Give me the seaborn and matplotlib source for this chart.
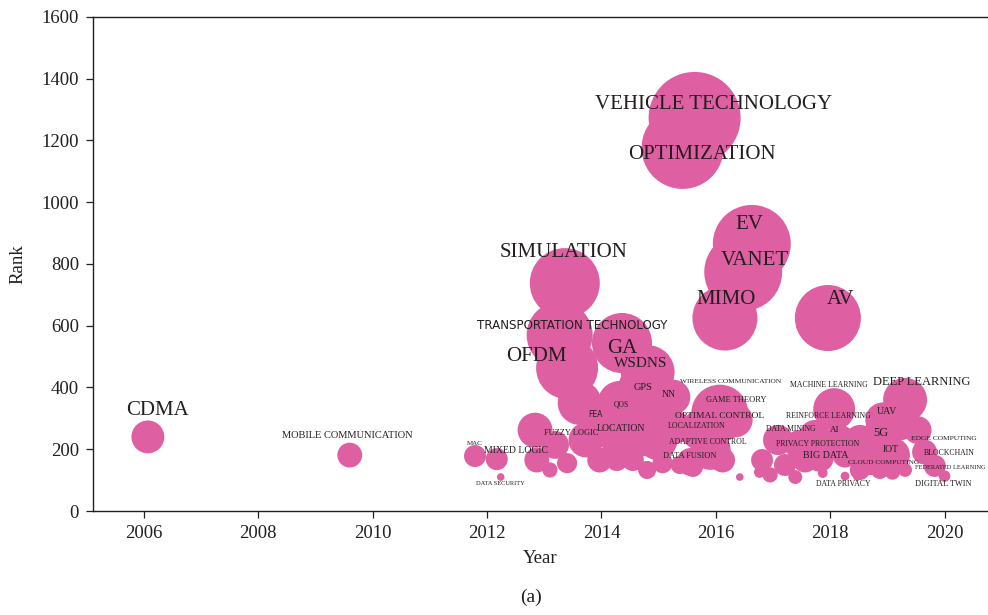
import matplotlib
matplotlib.use('Agg')
import matplotlib.pyplot as plt
import pandas as pd
import seaborn as sns

# keyword bubbles: first appearance year, rank, frequency (bubble area)
keywords = [
    'CDMA', 'MOBILE COMMUNICATION', 'MAC', 'MIXED LOGIC', 'DATA SECURITY',
    'SIMULATION', 'TRANSPORTATION TECHNOLOGY', 'OFDM', 'GA', 'WSDNS',
    'VEHICLE TECHNOLOGY', 'OPTIMIZATION', 'EV', 'VANET', 'MIMO', 'AV',
    'FEA', 'FUZZY LOGIC', 'QOS', 'GPS', 'NN', 'LOCATION',
    'WIRELESS COMMUNICATION', 'GAME THEORY', 'OPTIMAL CONTROL', 'LOCALIZATION',
    'ADAPTIVE CONTROL', 'DATA FUSION', 'DATA MINING', 'MACHINE LEARNING',
    'REINFORCE LEARNING', 'AI', 'PRIVACY PROTECTION', 'BIG DATA', 'DATA PRIVACY',
    'CLOUD COMPUTING', 'DEEP LEARNING', 'UAV', '5G', 'IOT', 'EDGE COMPUTING',
    'BLOCKCHAIN', 'FEDERATED LEARNING', 'DIGITAL TWIN',
] + [''] * 33
years = [
    2006.07, 2009.60, 2011.79, 2012.17, 2012.24,
    2013.36, 2013.27, 2013.40, 2014.36, 2014.81,
    2015.63, 2015.42, 2016.63, 2016.48, 2016.16, 2017.96,
    2013.62, 2012.84, 2014.32, 2014.72, 2015.25, 2014.32,
    2016.07, 2016.34, 2015.73, 2015.25,
    2015.91, 2015.56, 2017.09, 2018.07,
    2017.73, 2018.17, 2017.47, 2017.82, 2018.26,
    2018.69, 2019.31, 2018.92, 2018.87, 2019.09, 2019.53,
    2019.65, 2019.83, 2020.00,
    # unlabeled
    2012.87, 2013.10, 2013.40, 2013.19, 2013.97, 2014.27, 2014.55, 2014.80,
    2015.07, 2015.37, 2015.60, 2016.12, 2016.42, 2013.97, 2014.98, 2014.63,
    2013.73, 2014.81, 2016.81, 2016.95, 2016.77, 2017.21, 2017.39, 2017.87,
    2018.47, 2017.56, 2018.26, 2018.52, 2019.09, 2018.87, 2019.31, 2018.52,
    2019.23,
]
ranks = [
    240, 181, 178, 168, 110,
    738, 570, 463, 544, 450,
    1273, 1176, 865, 774, 625, 625,
    350, 262, 350, 392, 369, 253,
    317, 295, 262, 272,
    198, 159, 230, 330,
    246, 230, 214, 172, 113,
    165, 360, 295, 230, 181, 262,
    191, 146, 113,
    165, 133, 155, 214, 165, 165, 165, 133,
    155, 149, 143, 165, 110, 295, 230, 230,
    230, 327, 165, 117, 126, 149, 110, 123,
    110, 165, 181, 133, 126, 133, 133, 230,
    278,
]
counts = [
    56, 32, 25, 25, 3,
    254, 226, 199, 187, 150,
    439, 349, 315, 315, 219, 226,
    100, 63, 100, 130, 63, 105,
    168, 63, 83, 63,
    83, 40, 47, 91,
    47, 47, 47, 40, 4,
    47, 100, 63, 83, 63, 40,
    32, 25, 7,
    32, 12, 21, 40, 32, 25, 25, 17,
    21, 17, 21, 32, 3, 83, 83, 63,
    63, 63, 25, 12, 7, 25, 10, 5,
    3, 32, 32, 21, 12, 17, 10, 47,
    47,
]

df = pd.DataFrame({'keyword': keywords, 'year': years, 'rank': ranks, 'count': counts})

# label placement: offset from bubble centre (points) and font size
label_layout = {
    'CDMA': (7, 19, 15), 'MOBILE COMMUNICATION': (-2, 14, 7.5), 'MAC': (0, 9, 5),
    'MIXED LOGIC': (14, 6, 7), 'DATA SECURITY': (0, -5, 4.6), 'SIMULATION': (-1, 22, 15),
    'TRANSPORTATION TECHNOLOGY': (9, 7, 8.6), 'OFDM': (-22, 8, 15), 'GA': (0, -4, 15),
    'WSDNS': (-5, 6, 11), 'VEHICLE TECHNOLOGY': (14, 10, 15), 'OPTIMIZATION': (14, -5, 15),
    'EV': (-2, 14, 15), 'VANET': (8, 8, 15), 'MIMO': (1, 13, 15), 'AV': (9, 13, 15),
    'FEA': (11, -8, 5.5), 'FUZZY LOGIC': (26, -2, 6), 'QOS': (1, -1, 5.5),
    'GPS': (0, 2, 7.5), 'NN': (-3, 2, 7), 'LOCATION': (1, 3, 7),
    'WIRELESS COMMUNICATION': (8, 23, 5.3), 'GAME THEORY': (1, 14, 6),
    'OPTIMAL CONTROL': (14, 10, 6.8), 'LOCALIZATION': (17, 1, 5.7),
    'ADAPTIVE CONTROL': (-2, 6, 5.6), 'DATA FUSION': (-1, 4, 6), 'DATA MINING': (9, 8, 5.5),
    'MACHINE LEARNING': (-4, 17, 5.6), 'REINFORCE LEARNING': (10, 14, 5.6), 'AI': (-4, 7, 6.5),
    'PRIVACY PROTECTION': (13, 1, 5.6), 'BIG DATA': (4, 2, 7.2), 'DATA PRIVACY': (-1, -6, 5.6),
    'CLOUD COMPUTING': (10, -2, 5.4), 'DEEP LEARNING': (12, 13, 9), 'UAV': (3, 6, 7.2),
    '5G': (1, 5, 9), 'IOT': (-1, 4, 7), 'EDGE COMPUTING': (19, -6, 5.4),
    'BLOCKCHAIN': (18, -1, 5.6), 'FEDERATED LEARNING': (-14, -1, 4.6), 'DIGITAL TWIN': (-1, -6, 6),
}
sans_labels = ['TRANSPORTATION TECHNOLOGY', 'FEA']

sns.set_style('ticks')
plt.rcParams['font.family'] = ['Liberation Serif', 'DejaVu Serif']
ink = '#231f20'
pink = '#de5fa2'

fig = plt.figure(figsize=(9.88, 6.15), dpi=100)
ax = fig.add_axes([0.0941, 0.1691, 0.9059, 0.8033])

sns.scatterplot(data=df, x='year', y='rank', size='count', sizes=(0, 4500),
                size_norm=(0, 450), color=pink, edgecolor='none', alpha=1,
                legend=False, ax=ax)

for kw, yr, rk in zip(df['keyword'], df['year'], df['rank']):
    if not kw:
        continue
    dx, dy, fs = label_layout[kw]
    fam = ['Liberation Sans Narrow', 'DejaVu Sans'] if kw in sans_labels else ['Liberation Serif', 'DejaVu Serif']
    ha = 'left' if kw == 'FEDERATED LEARNING' else 'center'
    ax.annotate(kw, (yr, rk), xytext=(dx, dy), textcoords='offset points',
                ha=ha, va='center', fontsize=fs, family=fam, color=ink,
                annotation_clip=False)

ax.set_xlim(2005.11, 2020.76)
ax.set_ylim(0, 1600)
ax.set_xticks(range(2006, 2021, 2))
ax.set_yticks(range(0, 1601, 200))
ax.tick_params(direction='out', length=5, width=0.9, color=ink, labelcolor=ink,
               labelsize=13.5, pad=5)
for side in ['left', 'bottom', 'top']:
    ax.spines[side].set_linewidth(1)
    ax.spines[side].set_color(ink)
ax.spines['right'].set_visible(False)
ax.set_xlabel('Year', fontsize=13.5, color=ink, labelpad=6)
ax.set_ylabel('Rank', fontsize=13.5, color=ink, labelpad=11)
fig.text(0.537, 0.028, '(a)', ha='center', va='center', fontsize=14, color=ink)

fig.savefig('out.png', dpi=100)
